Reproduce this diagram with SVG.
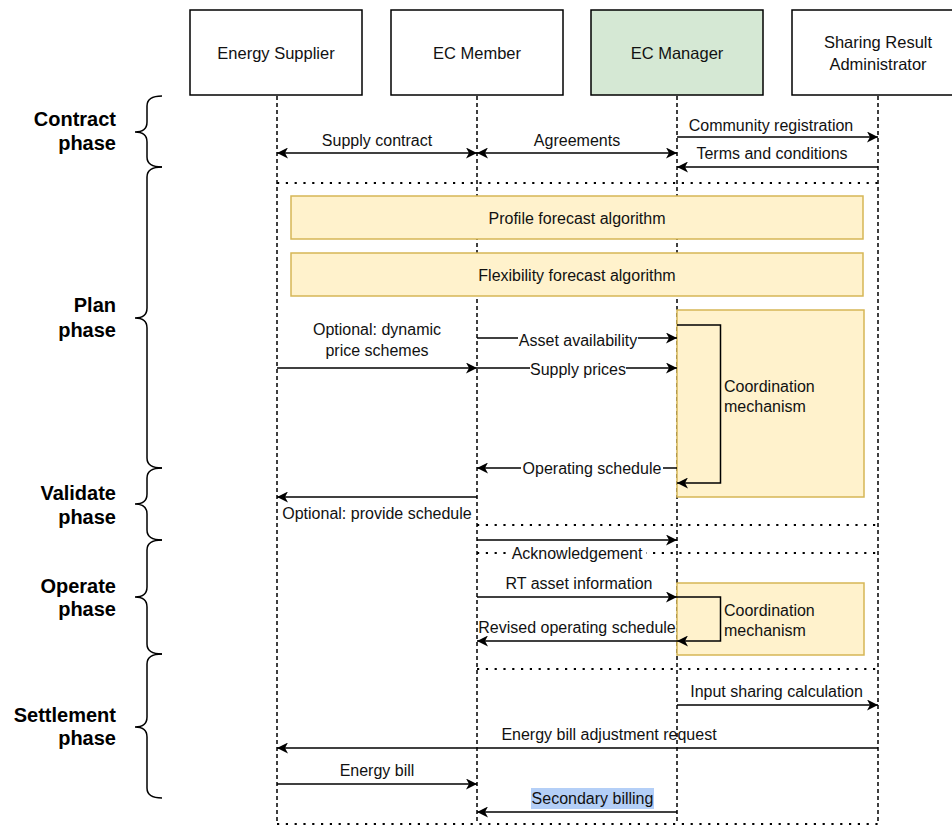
<svg xmlns="http://www.w3.org/2000/svg" width="952" height="827" viewBox="0 0 952 827">
  <style>
    text { font-family: "Liberation Sans", Arial, sans-serif; fill: #111; }
    .lbl { font-size: 16px; text-anchor: middle; }
    .lbl-l { font-size: 16px; text-anchor: start; }
    .actor-txt { font-size: 16.5px; text-anchor: middle; }
    .phase { font-size: 20px; font-weight: bold; text-anchor: end; fill: #000; }
    .actor { fill: #fff; stroke: #000; stroke-width: 1.5; }
    .mgr { fill: #d5e8d4; stroke: #000; stroke-width: 1.5; }
    .algo { fill: #fff2cc; stroke: #d6b656; stroke-width: 1.5; }
    .life { stroke: #000; stroke-width: 1.5; stroke-dasharray: 4 3; fill: none; }
    .sep { stroke: #000; stroke-width: 2.2; stroke-dasharray: 2.2 6.6; fill: none; }
    .msg { stroke: #000; stroke-width: 1.5; fill: none; marker-end: url(#arr); }
    .both { marker-start: url(#arr); }
    .loop { stroke: #000; stroke-width: 1.5; fill: none; marker-end: url(#arr); }
    .brace { stroke: #000; stroke-width: 1.5; fill: none; }
    .bg { fill: #fff; }
  </style>
  <defs>
    <marker id="arr" viewBox="0 0 11 11" refX="11" refY="5.5" markerWidth="11" markerHeight="11" markerUnits="userSpaceOnUse" orient="auto-start-reverse">
      <path d="M0,0 L11,5.5 L0,11 L3,5.5 z" fill="#000"/>
    </marker>
  </defs>

  <!-- lifelines -->
  <g id="lifelines">
    <line class="life" x1="277" y1="96" x2="277" y2="824"/>
    <line class="life" x1="477" y1="96" x2="477" y2="824"/>
    <line class="life" x1="677" y1="96" x2="677" y2="824"/>
    <line class="life" x1="878" y1="96" x2="878" y2="824"/>
  </g>

  <!-- actors -->
  <g id="energy-supplier">
    <rect class="actor" x="190" y="10" width="172" height="85"/>
    <text class="actor-txt" x="276" y="59">Energy Supplier</text>
  </g>
  <g id="ec-member">
    <rect class="actor" x="391" y="10" width="172" height="85"/>
    <text class="actor-txt" x="477" y="59">EC Member</text>
  </g>
  <g id="ec-manager">
    <rect class="mgr" x="591" y="10" width="172" height="85"/>
    <text class="actor-txt" x="677" y="59">EC Manager</text>
  </g>
  <g id="sharing-result-administrator">
    <rect class="actor" x="792" y="10" width="172" height="85"/>
    <text class="actor-txt" x="878" y="48">Sharing Result</text>
    <text class="actor-txt" x="878" y="70">Administrator</text>
  </g>

  <!-- phase braces and labels -->
  <g id="phase-contract">
    <path class="brace" d="M162,96 Q147,96 147,106 L147,122 Q147,132 135,132 Q147,132 147,142 L147,157 Q147,167 162,167"/>
    <text class="phase" x="116" y="126">Contract</text>
    <text class="phase" x="116" y="150">phase</text>
  </g>
  <g id="phase-plan">
    <path class="brace" d="M162,167 Q147,167 147,177 L147,308 Q147,318 135,318 Q147,318 147,328 L147,458 Q147,468 162,468"/>
    <text class="phase" x="116" y="312">Plan</text>
    <text class="phase" x="116" y="337">phase</text>
  </g>
  <g id="phase-validate">
    <path class="brace" d="M162,468 Q147,468 147,478 L147,494 Q147,504 135,504 Q147,504 147,514 L147,530 Q147,540 162,540"/>
    <text class="phase" x="116" y="500">Validate</text>
    <text class="phase" x="116" y="524">phase</text>
  </g>
  <g id="phase-operate">
    <path class="brace" d="M162,540 Q147,540 147,550 L147,587 Q147,597 135,597 Q147,597 147,607 L147,644 Q147,654 162,654"/>
    <text class="phase" x="116" y="593">Operate</text>
    <text class="phase" x="116" y="616">phase</text>
  </g>
  <g id="phase-settlement">
    <path class="brace" d="M162,654 Q147,654 147,664 L147,717 Q147,727 135,727 Q147,727 147,737 L147,788 Q147,798 162,798"/>
    <text class="phase" x="116" y="722">Settlement</text>
    <text class="phase" x="116" y="745">phase</text>
  </g>

  <!-- processing blocks -->
  <g id="profile-forecast">
    <rect class="algo" x="291" y="196" width="572" height="43"/>
    <text class="lbl" x="577" y="223.5">Profile forecast algorithm</text>
  </g>
  <g id="flexibility-forecast">
    <rect class="algo" x="291" y="253" width="572" height="43"/>
    <text class="lbl" x="577" y="280.5">Flexibility forecast algorithm</text>
  </g>
  <g id="coordination-plan">
    <rect class="algo" x="677" y="310" width="187" height="187"/>
    <text class="lbl-l" x="724" y="392">Coordination</text>
    <text class="lbl-l" x="724" y="412">mechanism</text>
  </g>
  <g id="coordination-operate">
    <rect class="algo" x="677" y="583" width="187" height="72"/>
    <text class="lbl-l" x="724" y="616">Coordination</text>
    <text class="lbl-l" x="724" y="636">mechanism</text>
  </g>

  <!-- separators between phases -->
  <g id="separators">
    <line class="sep" x1="277" y1="183" x2="878" y2="183"/>
    <line class="sep" x1="477" y1="525" x2="878" y2="525"/>
    <line class="sep" x1="477" y1="553" x2="878" y2="553"/>
    <line class="sep" x1="477" y1="669" x2="878" y2="669"/>
    <line class="sep" x1="277" y1="824" x2="878" y2="824"/>
  </g>

  <!-- messages -->
  <g id="connectors">
    <line class="msg both" x1="277" y1="153" x2="477" y2="153"/>
    <text class="lbl" x="377" y="145.5">Supply contract</text>
    <line class="msg both" x1="477" y1="153" x2="677" y2="153"/>
    <text class="lbl" x="577" y="145.5">Agreements</text>
    <line class="msg" x1="677" y1="137" x2="878" y2="137"/>
    <text class="lbl" x="771" y="130.5">Community registration</text>
    <line class="msg" x1="878" y1="167" x2="677" y2="167"/>
    <text class="lbl" x="772" y="158.5">Terms and conditions</text>

    <line class="msg" x1="277" y1="368" x2="477" y2="368"/>
    <text class="lbl" x="377" y="334.5">Optional: dynamic</text>
    <text class="lbl" x="377" y="355.5">price schemes</text>

    <line class="msg" x1="477" y1="338" x2="677" y2="338"/>
    <rect class="bg" x="518" y="331" width="120" height="17"/>
    <text class="lbl" x="578" y="345.5">Asset availability</text>
    <line class="msg" x1="477" y1="368" x2="677" y2="368"/>
    <rect class="bg" x="530" y="361" width="96" height="17"/>
    <text class="lbl" x="578" y="374.5">Supply prices</text>

    <path class="loop" d="M677,325 L720.5,325 L720.5,483 L677,483"/>

    <line class="msg" x1="677" y1="468" x2="477" y2="468"/>
    <rect class="bg" x="521" y="460" width="142" height="17"/>
    <text class="lbl" x="592" y="474">Operating schedule</text>

    <line class="msg" x1="477" y1="497" x2="277" y2="497"/>
    <text class="lbl" x="377" y="518.5">Optional: provide schedule</text>

    <line class="msg" x1="477" y1="540" x2="677" y2="540"/>
    <rect class="bg" x="509" y="545" width="137" height="17"/>
    <text class="lbl" x="577" y="558.5">Acknowledgement</text>

    <line class="msg" x1="477" y1="597" x2="677" y2="597"/>
    <text class="lbl" x="579" y="589">RT asset information</text>
    <path class="loop" d="M677,597 L720.5,597 L720.5,641 L677,641"/>
    <line class="msg" x1="677" y1="641" x2="477" y2="641"/>
    <text class="lbl" x="577" y="632.5">Revised operating schedule</text>

    <line class="msg" x1="677" y1="705" x2="878" y2="705"/>
    <text class="lbl" x="776.5" y="696.5">Input sharing calculation</text>
    <line class="msg" x1="878" y1="748" x2="277" y2="748"/>
    <text class="lbl" x="609" y="739.5">Energy bill adjustment request</text>
    <line class="msg" x1="277" y1="784" x2="477" y2="784"/>
    <text class="lbl" x="377" y="775.5">Energy bill</text>
    <line class="msg" x1="677" y1="812" x2="477" y2="812"/>
    <rect x="531" y="788" width="123" height="21" fill="#b4cff7"/>
    <text class="lbl" x="592.5" y="804">Secondary billing</text>
  </g>
</svg>
